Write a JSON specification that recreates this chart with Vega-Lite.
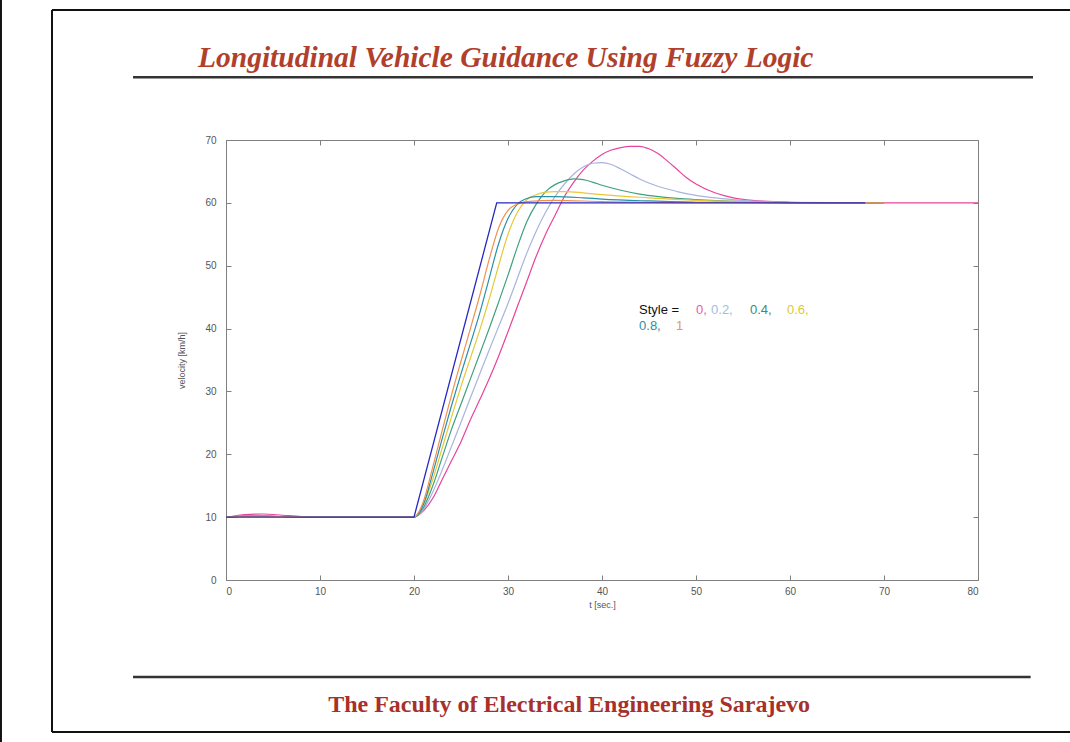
{
  "$schema": "https://vega.github.io/schema/vega-lite/v6.json",
  "width": 752,
  "height": 440,
  "autosize": "none",
  "padding": {"left": 226, "top": 140, "right": 92, "bottom": 162},
  "background": "white",
  "config": {"view": {"stroke": "#808080", "strokeWidth": 1}},
  "resolve": {"axis": {"x": "independent", "y": "independent"}},
  "layer": [
    {
      "data": {"values": [{}]},
      "mark": {"type": "rule", "color": "#111", "strokeWidth": 2},
      "encoding": {
        "x": {"datum": -23.94, "type": "quantitative", "axis": null},
        "y": {"datum": 93, "type": "quantitative", "axis": null},
        "y2": {"datum": -26}
      }
    },
    {
      "data": {"values": [{}]},
      "mark": {"type": "rule", "color": "#111", "strokeWidth": 2},
      "encoding": {
        "x": {"datum": -18.51, "type": "quantitative", "axis": null},
        "y": {"datum": 90.68, "type": "quantitative", "axis": null},
        "y2": {"datum": -24.18}
      }
    },
    {
      "data": {"values": [{}]},
      "mark": {"type": "rule", "color": "#111", "strokeWidth": 2},
      "encoding": {
        "x": {"datum": -18.51, "type": "quantitative", "axis": null},
        "x2": {"datum": 92},
        "y": {"datum": 90.68, "type": "quantitative", "axis": null}
      }
    },
    {
      "data": {"values": [{}]},
      "mark": {"type": "rule", "color": "#111", "strokeWidth": 2},
      "encoding": {
        "x": {"datum": -18.51, "type": "quantitative", "axis": null},
        "x2": {"datum": 92},
        "y": {"datum": -24.18, "type": "quantitative", "axis": null}
      }
    },
    {
      "data": {"values": [{}]},
      "mark": {"type": "rule", "color": "#333", "strokeWidth": 2.5},
      "encoding": {
        "x": {"datum": -9.89, "type": "quantitative", "axis": null},
        "x2": {"datum": 85.85},
        "y": {"datum": 80.0, "type": "quantitative", "axis": null}
      }
    },
    {
      "data": {"values": [{}]},
      "mark": {"type": "rule", "color": "#333", "strokeWidth": 2.5},
      "encoding": {
        "x": {"datum": -9.89, "type": "quantitative", "axis": null},
        "x2": {"datum": 85.6},
        "y": {"datum": -15.43, "type": "quantitative", "axis": null}
      }
    },
    {
      "data": {"values": [{}]},
      "mark": {"type": "text", "text": "Longitudinal Vehicle Guidance Using Fuzzy Logic", "font": "Liberation Serif", "fontStyle": "italic", "fontWeight": "bold", "fontSize": 29.5, "color": "#b0402c", "align": "left", "baseline": "alphabetic"},
      "encoding": {
        "x": {"datum": -2.98, "type": "quantitative", "axis": null},
        "y": {"datum": 81.6, "type": "quantitative", "axis": null}
      }
    },
    {
      "data": {"values": [{}]},
      "mark": {"type": "text", "text": "The Faculty of Electrical Engineering Sarajevo", "font": "Liberation Serif", "fontWeight": "bold", "fontSize": 24, "color": "#a8302a", "align": "center", "baseline": "alphabetic"},
      "encoding": {
        "x": {"datum": 36.5, "type": "quantitative", "axis": null},
        "y": {"datum": -21.0, "type": "quantitative", "axis": null}
      }
    },
    {
      "data": {"values": [{}]},
      "mark": {"type": "point", "opacity": 0},
      "encoding": {
        "x": {"datum": 0, "type": "quantitative", "axis": {"orient": "top", "labels": false, "title": null, "domain": false, "grid": false, "tickColor": "#808080", "tickSize": -5, "values": [0, 10, 20, 30, 40, 50, 60, 70, 80]}},
        "y": {"datum": 0, "type": "quantitative", "axis": {"orient": "right", "labels": false, "title": null, "domain": false, "grid": false, "tickColor": "#808080", "tickSize": -5, "values": [0, 10, 20, 30, 40, 50, 60, 70]}}
      }
    },
    {
      "data": {"values": [
        {"s": "0", "t": 0, "v": 10}, {"s": "0", "t": 1, "v": 10.2}, {"s": "0", "t": 2, "v": 10.4}, {"s": "0", "t": 4, "v": 10.5}, {"s": "0", "t": 6, "v": 10.3}, {"s": "0", "t": 8, "v": 10.1}, {"s": "0", "t": 10, "v": 10}, {"s": "0", "t": 20, "v": 10},
        {"s": "0", "t": 21, "v": 11}, {"s": "0", "t": 22, "v": 13}, {"s": "0", "t": 23, "v": 16}, {"s": "0", "t": 24, "v": 19}, {"s": "0", "t": 25, "v": 22}, {"s": "0", "t": 26, "v": 25.5}, {"s": "0", "t": 27, "v": 28.7}, {"s": "0", "t": 28, "v": 32}, {"s": "0", "t": 29, "v": 35.6}, {"s": "0", "t": 30, "v": 39.5}, {"s": "0", "t": 31, "v": 43.5}, {"s": "0", "t": 32, "v": 47.5}, {"s": "0", "t": 33, "v": 51.5}, {"s": "0", "t": 34, "v": 55}, {"s": "0", "t": 35, "v": 58}, {"s": "0", "t": 36, "v": 61}, {"s": "0", "t": 37, "v": 63.3}, {"s": "0", "t": 38, "v": 65.2}, {"s": "0", "t": 39, "v": 66.6}, {"s": "0", "t": 40, "v": 67.7}, {"s": "0", "t": 41, "v": 68.4}, {"s": "0", "t": 42, "v": 68.8}, {"s": "0", "t": 43, "v": 69}, {"s": "0", "t": 44, "v": 69}, {"s": "0", "t": 45, "v": 68.6}, {"s": "0", "t": 46, "v": 67.8}, {"s": "0", "t": 47, "v": 66.6}, {"s": "0", "t": 48, "v": 65.3}, {"s": "0", "t": 49, "v": 64}, {"s": "0", "t": 50, "v": 63}, {"s": "0", "t": 52, "v": 61.6}, {"s": "0", "t": 54, "v": 60.8}, {"s": "0", "t": 56, "v": 60.4}, {"s": "0", "t": 60, "v": 60.1}, {"s": "0", "t": 65, "v": 60}, {"s": "0", "t": 80, "v": 60},
        {"s": "0.2", "t": 0, "v": 10}, {"s": "0.2", "t": 3, "v": 10.2}, {"s": "0.2", "t": 6, "v": 10.1}, {"s": "0.2", "t": 10, "v": 10}, {"s": "0.2", "t": 20, "v": 10},
        {"s": "0.2", "t": 21, "v": 11.2}, {"s": "0.2", "t": 22, "v": 14}, {"s": "0.2", "t": 23, "v": 17.5}, {"s": "0.2", "t": 24, "v": 21.3}, {"s": "0.2", "t": 25, "v": 25.1}, {"s": "0.2", "t": 26, "v": 29}, {"s": "0.2", "t": 27, "v": 32.8}, {"s": "0.2", "t": 28, "v": 36.6}, {"s": "0.2", "t": 29, "v": 40.3}, {"s": "0.2", "t": 30, "v": 44}, {"s": "0.2", "t": 31, "v": 48}, {"s": "0.2", "t": 32, "v": 52}, {"s": "0.2", "t": 33, "v": 55.5}, {"s": "0.2", "t": 34, "v": 58.5}, {"s": "0.2", "t": 35, "v": 61}, {"s": "0.2", "t": 36, "v": 63}, {"s": "0.2", "t": 37, "v": 64.6}, {"s": "0.2", "t": 38, "v": 65.7}, {"s": "0.2", "t": 39, "v": 66.3}, {"s": "0.2", "t": 40, "v": 66.4}, {"s": "0.2", "t": 41, "v": 66.1}, {"s": "0.2", "t": 42, "v": 65.4}, {"s": "0.2", "t": 43, "v": 64.6}, {"s": "0.2", "t": 44, "v": 63.8}, {"s": "0.2", "t": 46, "v": 62.6}, {"s": "0.2", "t": 48, "v": 61.8}, {"s": "0.2", "t": 50, "v": 61.2}, {"s": "0.2", "t": 55, "v": 60.4}, {"s": "0.2", "t": 60, "v": 60.1}, {"s": "0.2", "t": 70, "v": 60},
        {"s": "0.4", "t": 0, "v": 10}, {"s": "0.4", "t": 3, "v": 10.2}, {"s": "0.4", "t": 6, "v": 10.1}, {"s": "0.4", "t": 10, "v": 10}, {"s": "0.4", "t": 20, "v": 10},
        {"s": "0.4", "t": 21, "v": 11.5}, {"s": "0.4", "t": 22, "v": 15}, {"s": "0.4", "t": 23, "v": 19.5}, {"s": "0.4", "t": 24, "v": 24}, {"s": "0.4", "t": 25, "v": 28}, {"s": "0.4", "t": 26, "v": 32}, {"s": "0.4", "t": 27, "v": 36}, {"s": "0.4", "t": 28, "v": 40}, {"s": "0.4", "t": 29, "v": 44.2}, {"s": "0.4", "t": 30, "v": 48.5}, {"s": "0.4", "t": 31, "v": 53}, {"s": "0.4", "t": 32, "v": 57}, {"s": "0.4", "t": 33, "v": 59.8}, {"s": "0.4", "t": 34, "v": 61.8}, {"s": "0.4", "t": 35, "v": 62.9}, {"s": "0.4", "t": 36, "v": 63.5}, {"s": "0.4", "t": 37, "v": 63.8}, {"s": "0.4", "t": 38, "v": 63.7}, {"s": "0.4", "t": 39, "v": 63.3}, {"s": "0.4", "t": 40, "v": 62.8}, {"s": "0.4", "t": 42, "v": 62}, {"s": "0.4", "t": 44, "v": 61.4}, {"s": "0.4", "t": 46, "v": 61}, {"s": "0.4", "t": 48, "v": 60.7}, {"s": "0.4", "t": 50, "v": 60.5}, {"s": "0.4", "t": 55, "v": 60.2}, {"s": "0.4", "t": 60, "v": 60.05}, {"s": "0.4", "t": 70, "v": 60},
        {"s": "0.6", "t": 0, "v": 10}, {"s": "0.6", "t": 3, "v": 10.2}, {"s": "0.6", "t": 6, "v": 10.1}, {"s": "0.6", "t": 10, "v": 10}, {"s": "0.6", "t": 20, "v": 10},
        {"s": "0.6", "t": 21, "v": 12}, {"s": "0.6", "t": 22, "v": 16}, {"s": "0.6", "t": 23, "v": 21}, {"s": "0.6", "t": 24, "v": 26}, {"s": "0.6", "t": 25, "v": 30.8}, {"s": "0.6", "t": 26, "v": 35.3}, {"s": "0.6", "t": 27, "v": 39.8}, {"s": "0.6", "t": 28, "v": 44.7}, {"s": "0.6", "t": 29, "v": 50}, {"s": "0.6", "t": 30, "v": 55}, {"s": "0.6", "t": 31, "v": 58.5}, {"s": "0.6", "t": 32, "v": 60.5}, {"s": "0.6", "t": 33, "v": 61.3}, {"s": "0.6", "t": 34, "v": 61.7}, {"s": "0.6", "t": 35, "v": 61.8}, {"s": "0.6", "t": 36, "v": 61.8}, {"s": "0.6", "t": 38, "v": 61.6}, {"s": "0.6", "t": 40, "v": 61.3}, {"s": "0.6", "t": 45, "v": 60.8}, {"s": "0.6", "t": 50, "v": 60.4}, {"s": "0.6", "t": 55, "v": 60.2}, {"s": "0.6", "t": 60, "v": 60.05}, {"s": "0.6", "t": 70, "v": 60},
        {"s": "0.8", "t": 0, "v": 10}, {"s": "0.8", "t": 3, "v": 10.2}, {"s": "0.8", "t": 6, "v": 10.1}, {"s": "0.8", "t": 10, "v": 10}, {"s": "0.8", "t": 20, "v": 10},
        {"s": "0.8", "t": 21, "v": 12}, {"s": "0.8", "t": 22, "v": 17}, {"s": "0.8", "t": 23, "v": 22.5}, {"s": "0.8", "t": 24, "v": 27.8}, {"s": "0.8", "t": 25, "v": 32.8}, {"s": "0.8", "t": 26, "v": 37.6}, {"s": "0.8", "t": 27, "v": 42.5}, {"s": "0.8", "t": 28, "v": 48}, {"s": "0.8", "t": 29, "v": 53.5}, {"s": "0.8", "t": 30, "v": 57.5}, {"s": "0.8", "t": 31, "v": 59.8}, {"s": "0.8", "t": 32, "v": 60.7}, {"s": "0.8", "t": 33, "v": 61}, {"s": "0.8", "t": 35, "v": 61}, {"s": "0.8", "t": 38, "v": 60.8}, {"s": "0.8", "t": 40, "v": 60.6}, {"s": "0.8", "t": 45, "v": 60.3}, {"s": "0.8", "t": 50, "v": 60.1}, {"s": "0.8", "t": 60, "v": 60}, {"s": "0.8", "t": 70, "v": 60},
        {"s": "1", "t": 0, "v": 10}, {"s": "1", "t": 3, "v": 10.2}, {"s": "1", "t": 6, "v": 10.1}, {"s": "1", "t": 10, "v": 10}, {"s": "1", "t": 20, "v": 10},
        {"s": "1", "t": 20.5, "v": 10.8}, {"s": "1", "t": 21, "v": 12.5}, {"s": "1", "t": 22, "v": 18}, {"s": "1", "t": 23, "v": 23.8}, {"s": "1", "t": 24, "v": 29.5}, {"s": "1", "t": 25, "v": 34.8}, {"s": "1", "t": 26, "v": 40}, {"s": "1", "t": 27, "v": 45.3}, {"s": "1", "t": 28, "v": 51}, {"s": "1", "t": 29, "v": 56}, {"s": "1", "t": 30, "v": 58.8}, {"s": "1", "t": 31, "v": 59.8}, {"s": "1", "t": 32, "v": 60.2}, {"s": "1", "t": 35, "v": 60.4}, {"s": "1", "t": 40, "v": 60.2}, {"s": "1", "t": 50, "v": 60.05}, {"s": "1", "t": 70, "v": 60},
        {"s": "ref", "t": 0, "v": 10}, {"s": "ref", "t": 20, "v": 10}, {"s": "ref", "t": 28.8, "v": 60}, {"s": "ref", "t": 68, "v": 60}
      ]},
      "encoding": {
        "x": {"field": "t", "type": "quantitative", "scale": {"domain": [0, 80], "nice": false, "zero": false},
          "axis": {"orient": "bottom", "values": [0, 10, 20, 30, 40, 50, 60, 70, 80], "grid": false, "domainColor": "#808080", "tickColor": "#808080", "tickSize": -5, "labelPadding": 11, "labelFont": "Liberation Sans", "labelFontSize": 10, "labelColor": "#555", "title": "t [sec.]", "titleFont": "Liberation Sans", "titleFontSize": 9, "titleFontWeight": "normal", "titleColor": "#555", "titlePadding": 4}},
        "y": {"field": "v", "type": "quantitative", "scale": {"domain": [0, 70], "nice": false, "zero": false},
          "axis": {"orient": "left", "values": [0, 10, 20, 30, 40, 50, 60, 70], "grid": false, "domainColor": "#808080", "tickColor": "#808080", "tickSize": -5, "labelPadding": 15, "labelFont": "Liberation Sans", "labelFontSize": 10, "labelColor": "#555", "title": "velocity [km/h]", "titleFont": "Liberation Sans", "titleFontSize": 9, "titleFontWeight": "normal", "titleColor": "#555", "titlePadding": 18}},
        "color": {"field": "s", "type": "nominal", "legend": null,
          "scale": {"domain": ["0.2", "0.4", "0.6", "0.8", "1", "0", "ref"], "range": ["#a8b4dc", "#3ea080", "#e8c838", "#2890a8", "#f09050", "#e8449c", "#2828c0"]}}
      },
      "layer": [
        {
          "transform": [{"filter": "datum.s !== 'ref'"}],
          "mark": {"type": "line", "strokeWidth": 1.2, "interpolate": "monotone"}
        },
        {
          "transform": [{"filter": "datum.s === 'ref'"}],
          "mark": {"type": "line", "strokeWidth": 1.3, "interpolate": "linear"}
        }
      ]
    },
    {
      "data": {"values": [{}]},
      "mark": {"type": "text", "text": "Style =", "font": "Liberation Sans", "fontSize": 13, "color": "#111", "align": "left", "baseline": "alphabetic"},
      "encoding": {"x": {"datum": 43.94, "type": "quantitative", "axis": null}, "y": {"datum": 42.3, "type": "quantitative", "axis": null}}
    },
    {
      "data": {"values": [{}]},
      "mark": {"type": "text", "text": "0,", "font": "Liberation Sans", "fontSize": 13, "color": "#ec5aac", "align": "left", "baseline": "alphabetic"},
      "encoding": {"x": {"datum": 50.0, "type": "quantitative", "axis": null}, "y": {"datum": 42.3, "type": "quantitative", "axis": null}}
    },
    {
      "data": {"values": [{}]},
      "mark": {"type": "text", "text": "0.2,", "font": "Liberation Sans", "fontSize": 13, "color": "#9cc0e0", "align": "left", "baseline": "alphabetic"},
      "encoding": {"x": {"datum": 51.6, "type": "quantitative", "axis": null}, "y": {"datum": 42.3, "type": "quantitative", "axis": null}}
    },
    {
      "data": {"values": [{}]},
      "mark": {"type": "text", "text": "0.4,", "font": "Liberation Sans", "fontSize": 13, "color": "#3a8a80", "align": "left", "baseline": "alphabetic"},
      "encoding": {"x": {"datum": 55.74, "type": "quantitative", "axis": null}, "y": {"datum": 42.3, "type": "quantitative", "axis": null}}
    },
    {
      "data": {"values": [{}]},
      "mark": {"type": "text", "text": "0.6,", "font": "Liberation Sans", "fontSize": 13, "color": "#e0c838", "align": "left", "baseline": "alphabetic"},
      "encoding": {"x": {"datum": 59.68, "type": "quantitative", "axis": null}, "y": {"datum": 42.3, "type": "quantitative", "axis": null}}
    },
    {
      "data": {"values": [{}]},
      "mark": {"type": "text", "text": "0.8,", "font": "Liberation Sans", "fontSize": 13, "color": "#2e8ea0", "align": "left", "baseline": "alphabetic"},
      "encoding": {"x": {"datum": 43.94, "type": "quantitative", "axis": null}, "y": {"datum": 39.75, "type": "quantitative", "axis": null}}
    },
    {
      "data": {"values": [{}]},
      "mark": {"type": "text", "text": "1", "font": "Liberation Sans", "fontSize": 13, "color": "#e89850", "align": "left", "baseline": "alphabetic"},
      "encoding": {"x": {"datum": 47.87, "type": "quantitative", "axis": null}, "y": {"datum": 39.75, "type": "quantitative", "axis": null}}
    }
  ]
}
